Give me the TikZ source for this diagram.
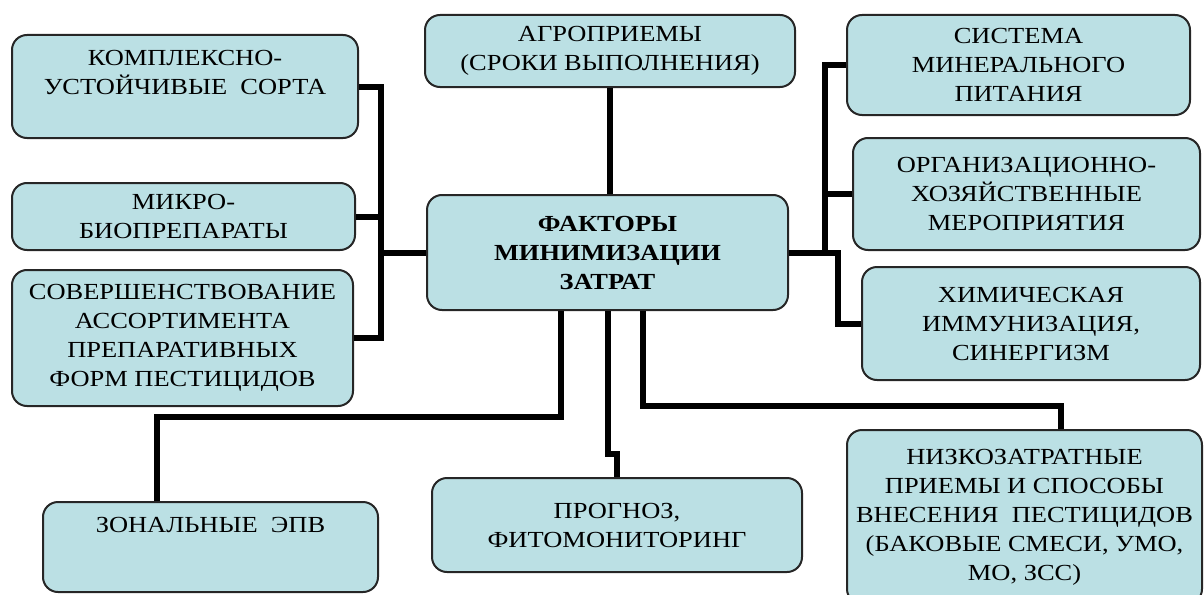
\documentclass[tikz,border=0pt]{standalone}
\usepackage{fontspec}
\setmainfont[FakeStretch=1.15]{Liberation Serif}
\definecolor{boxfill}{RGB}{187,224,228}

\begin{document}
\begin{tikzpicture}[x=1pt, y=-1pt,
  fbox/.style={rectangle, draw=black!85, line width=2pt, rounded corners=15pt,
               fill=boxfill, align=center, inner sep=0pt,
               font=\fontsize{23}{29}\selectfont},
  link/.style={line width=6pt},
]
\useasboundingbox (0,0) rectangle (1204,594);

% central factor
\node[fbox, minimum width=361pt, minimum height=115pt] (factors) at (607.5,252.5)
  {\textbf{ФАКТОРЫ}\\\textbf{МИНИМИЗАЦИИ}\\\textbf{ЗАТРАТ}};

% left column
\node[fbox, minimum width=346pt, minimum height=103pt] (sorta) at (185,86.5)
  {КОМПЛЕКСНО-\\УСТОЙЧИВЫЕ\ \ СОРТА\\~};
\node[fbox, minimum width=343pt, minimum height=67pt] (mikro) at (183.5,216.5)
  {МИКРО-\\БИОПРЕПАРАТЫ};
\node[fbox, minimum width=341pt, minimum height=136pt] (assort) at (182.5,338)
  {СОВЕРШЕНСТВОВАНИЕ\\АССОРТИМЕНТА\\ПРЕПАРАТИВНЫХ\\ФОРМ ПЕСТИЦИДОВ};

% top
\node[fbox, minimum width=370pt, minimum height=72pt] (agro) at (610,51)
  {АГРОПРИЕМЫ\\(СРОКИ ВЫПОЛНЕНИЯ)};

% right column
\node[fbox, minimum width=343pt, minimum height=100pt] (mineral) at (1018.5,65)
  {СИСТЕМА\\МИНЕРАЛЬНОГО\\ПИТАНИЯ};
\node[fbox, minimum width=347pt, minimum height=112pt] (orgmer) at (1026.5,194)
  {ОРГАНИЗАЦИОННО-\\ХОЗЯЙСТВЕННЫЕ\\МЕРОПРИЯТИЯ};
\node[fbox, minimum width=338pt, minimum height=113pt] (immun) at (1031,323.5)
  {ХИМИЧЕСКАЯ\\ИММУНИЗАЦИЯ,\\СИНЕРГИЗМ};

% bottom row
\node[fbox, minimum width=335pt, minimum height=90pt] (zonal) at (210.5,547)
  {ЗОНАЛЬНЫЕ\ \ ЭПВ\\[15pt]~};
\node[fbox, minimum width=370pt, minimum height=94pt] (prognoz) at (617,525)
  {ПРОГНОЗ,\\ФИТОМОНИТОРИНГ};
\node[fbox, minimum width=355pt, minimum height=174pt] (nizko) at (1024.5,517)
  {НИЗКОЗАТРАТНЫЕ\\ПРИЕМЫ И СПОСОБЫ\\ВНЕСЕНИЯ\ \ ПЕСТИЦИДОВ\\(БАКОВЫЕ СМЕСИ, УМО,\\МО, ЗСС)};

% buses
\coordinate (lbus) at (381,0);
\coordinate (rbus) at (825,0);
\coordinate (kbus) at (838,0);

% left links
\draw[link] (sorta.east) -| (lbus |- assort.east) -- (assort.east);
\draw[link] (mikro.east) -- (mikro.east -| lbus);
\draw[link] (lbus |- factors.west) -- (factors.west);

% top link
\draw[link] (agro.south) -- (agro.south |- factors.north);

% right links
\draw[link] (mineral.west) -| (rbus |- factors.east) -- (factors.east);
\draw[link] (orgmer.west) -- (orgmer.west -| rbus);
\draw[link] (factors.east -| rbus) -| (kbus |- immun.west) -- (immun.west);

% bottom links
\draw[link] ([xshift=-47pt]factors.south) -- ++(0,106) -| ([xshift=115pt]zonal.north west);
\draw[link] (factors.south) -- ++(0,143) -| (prognoz.north);
\draw[link] ([xshift=35pt]factors.south) -- ++(0,95) -| ([xshift=215pt]nizko.north west);

\end{tikzpicture}
\end{document}
